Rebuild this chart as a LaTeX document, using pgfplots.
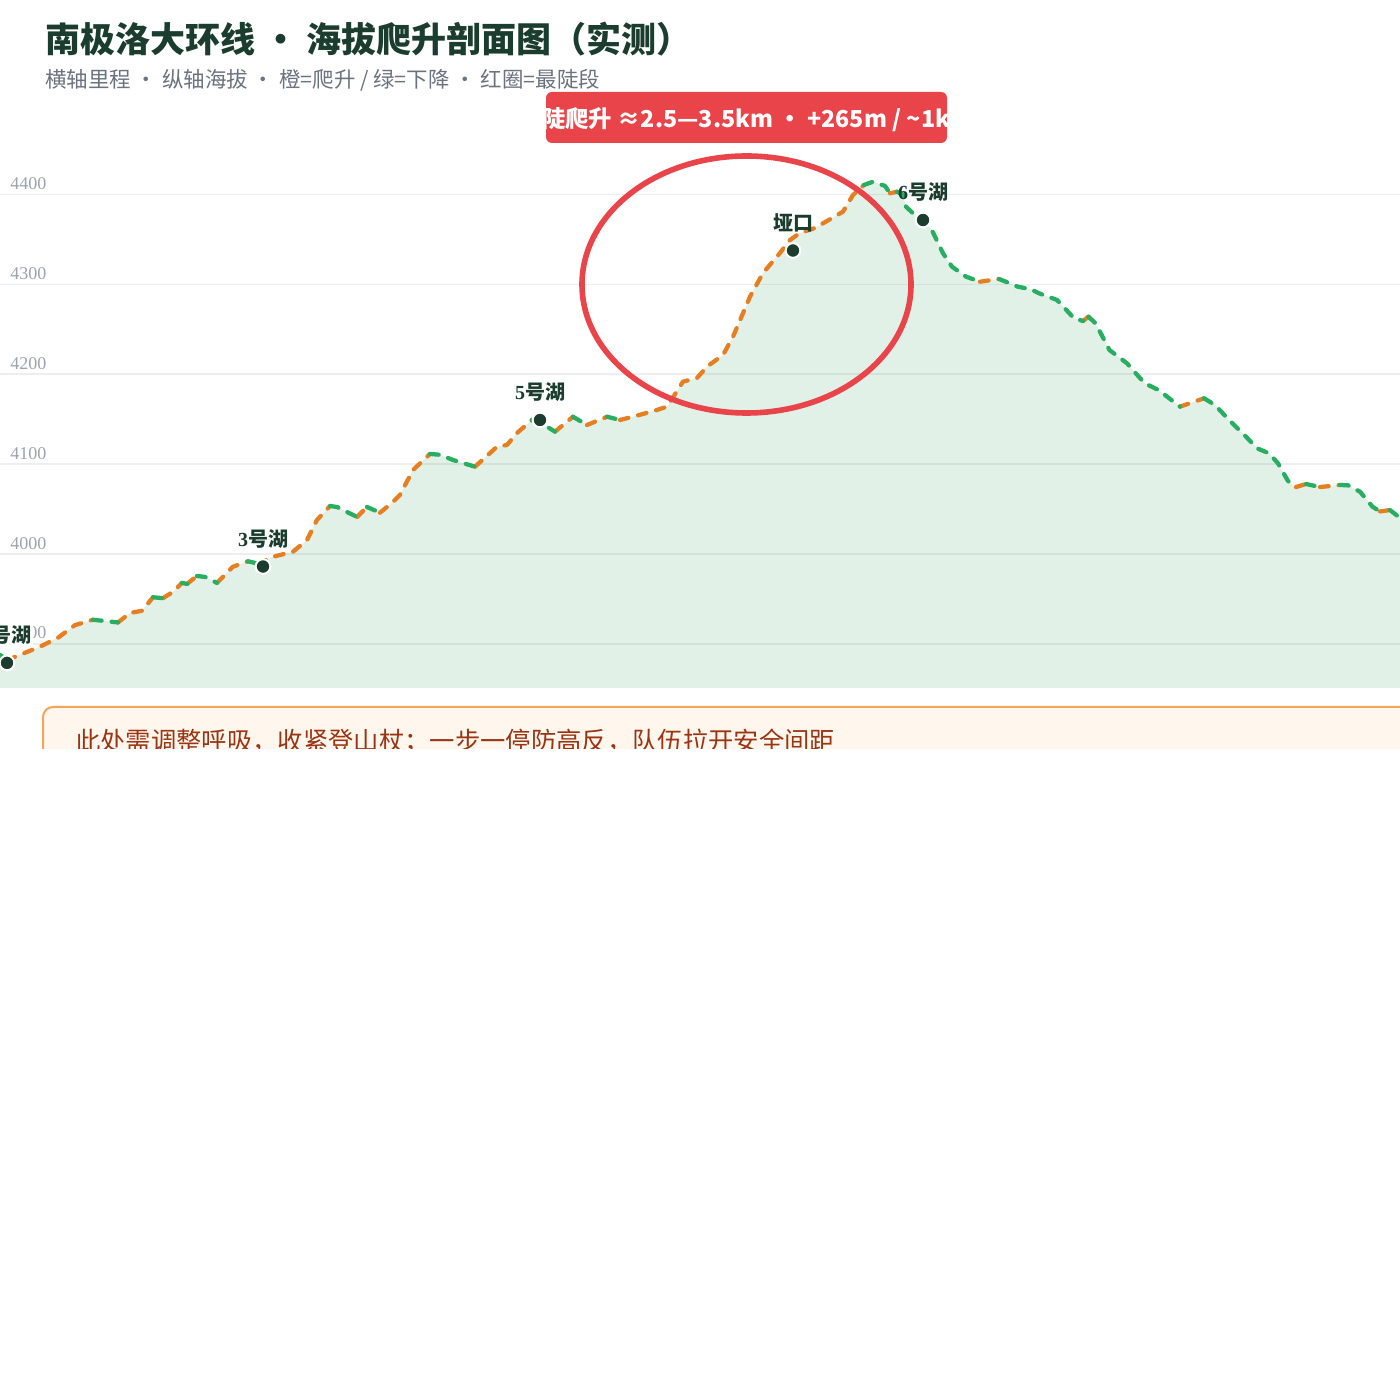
\documentclass[border=0pt]{standalone}
\usepackage{fontspec}
\usepackage{pgfplots}
\pgfplotsset{compat=1.18}
\setmainfont{Noto Sans CJK SC}
\newfontfamily\cjk{Noto Sans CJK SC}
\newfontfamily\serif{Liberation Serif}
\definecolor{titlec}{HTML}{1B3D2F}
\definecolor{subc}{HTML}{6B7280}
\definecolor{tickc}{HTML}{9CA3AF}
\definecolor{gridc}{HTML}{EEEEEE}
\definecolor{orangec}{HTML}{E67E22}
\definecolor{greenc}{HTML}{27AE60}
\definecolor{fillc}{HTML}{2E9E5B}
\definecolor{redc}{HTML}{E94449}
\definecolor{markc}{HTML}{1B3D2F}
\definecolor{calloutbg}{HTML}{FFF7ED}
\definecolor{calloutbd}{HTML}{F6A35C}
\definecolor{callouttx}{HTML}{9A3412}
\pgfplotstableread{
x y
0 3888
7 3882
20 3888
40 3897
58 3907
75 3921
93 3927
118 3924
130 3934.5
142 3937
153 3952
163 3951
173 3958
182 3968
187 3966.8
197 3975.7
205 3974.6
217 3968
233 3986
248 3992
258 3989.5
273 3997
293 4002.7
307 4015.7
317 4038
330 4053.5
337 4052.4
357 4041.3
367 4052.4
380 4046.1
392 4057
400 4066
413 4093.6
430 4111.4
440 4110.5
453 4104.7
475 4097.2
497 4119.5
507 4121.4
517 4134.7
532 4149.2
547 4141.7
555 4136.2
573 4152.8
587 4143.6
607 4152.8
620 4149.2
633 4152.8
657 4160.3
667 4164
683 4191.8
697 4195.9
707 4208.5
723 4221.5
733 4241.8
750 4286.3
763 4312.7
780 4334.9
790 4349.4
800 4357.2
815 4362.7
843 4380.9
853 4399.4
864 4410.6
873 4414.2
885 4409.5
890 4401.3
897 4403.1
903 4399.4
906 4386.4
913 4379.1
923 4371.6
931 4362.4
943 4334.6
952 4319.7
966 4308.6
980 4303
999 4306
1018 4297.4
1031 4294.6
1039 4290.1
1057 4282.7
1074 4262.3
1083 4259.3
1088.5 4264.1
1095.5 4256.7
1109.5 4227
1127 4212.2
1144.6 4190
1158.6 4182.5
1180 4164
1204 4173.3
1215 4165.9
1229 4149.2
1246 4130.6
1257 4117.7
1269 4112.1
1278 4101
1288 4081.3
1296 4074.6
1306 4078
1320 4074.6
1340 4076.9
1348 4076.5
1360 4069.4
1372.5 4052.7
1380 4047.5
1390 4049
1400 4040.2
1410 4032
}\profile
\begin{document}
\begin{tikzpicture}
\fill[white] (0pt,0pt) rectangle (1050pt,1050pt);
\useasboundingbox (0pt,0pt) rectangle (1050pt,1050pt);
\begin{axis}[at={(0pt,534pt)}, anchor=south west, scale only axis,
  width=1050pt, height=411pt, xmin=0, xmax=1400, ymin=3851.1, ymax=4460.6,
  axis line style={draw=none}, xtick=\empty,
  ytick={3900,4000,4100,4200,4300,4400},
  yticklabels={3900,4000,4100,4200,4300,4400},
  major tick length=0pt, ymajorgrids,
  grid style={draw=gridc, line width=1.2pt},
  yticklabel style={anchor=south west, inner sep=0pt, xshift=7.5pt, yshift=3.5pt,
    font=\serif\fontsize{13.5}{15}\selectfont, text=tickc},
  unbounded coords=jump]
\addplot[draw=none, fill=fillc, fill opacity=0.14] table {\profile} \closedcycle;
\addplot[orangec, line width=3.2pt, line cap=round, line join=round, dash pattern=on 6.5pt off 7.5pt] coordinates {
(7,3882) (20,3888) (40,3897) (58,3907) (75,3921) (93,3927) (nan,nan)
(118,3924) (130,3934.5) (142,3937) (153,3952) (nan,nan)
(163,3951) (173,3958) (182,3968) (nan,nan)
(187,3966.8) (197,3975.7) (nan,nan)
(217,3968) (233,3986) (248,3992) (nan,nan)
(258,3989.5) (273,3997) (293,4002.7) (307,4015.7) (317,4038) (330,4053.5) (nan,nan)
(357,4041.3) (367,4052.4) (nan,nan)
(380,4046.1) (392,4057) (400,4066) (413,4093.6) (430,4111.4) (nan,nan)
(475,4097.2) (497,4119.5) (507,4121.4) (517,4134.7) (532,4149.2) (nan,nan)
(555,4136.2) (573,4152.8) (nan,nan)
(587,4143.6) (607,4152.8) (nan,nan)
(620,4149.2) (633,4152.8) (657,4160.3) (667,4164) (683,4191.8) (697,4195.9) (707,4208.5) (723,4221.5) (733,4241.8) (750,4286.3) (763,4312.7) (780,4334.9) (790,4349.4) (800,4357.2) (815,4362.7) (843,4380.9) (853,4399.4) (864,4410.6) (nan,nan)
(890,4401.3) (897,4403.1) (nan,nan)
(980,4303) (999,4306) (nan,nan)
(1083,4259.3) (1088.5,4264.1) (nan,nan)
(1180,4164) (1204,4173.3) (nan,nan)
(1296,4074.6) (1306,4078) (nan,nan)
(1320,4074.6) (1340,4076.9) (nan,nan)
(1380,4047.5) (1390,4049)
};
\addplot[greenc, line width=3.2pt, line cap=round, line join=round, dash pattern=on 6.5pt off 7.5pt] coordinates {
(0,3888) (7,3882) (nan,nan)
(93,3927) (118,3924) (nan,nan)
(153,3952) (163,3951) (nan,nan)
(182,3968) (187,3966.8) (nan,nan)
(197,3975.7) (205,3974.6) (217,3968) (nan,nan)
(248,3992) (258,3989.5) (nan,nan)
(330,4053.5) (337,4052.4) (357,4041.3) (nan,nan)
(367,4052.4) (380,4046.1) (nan,nan)
(430,4111.4) (440,4110.5) (453,4104.7) (475,4097.2) (nan,nan)
(532,4149.2) (547,4141.7) (555,4136.2) (nan,nan)
(573,4152.8) (587,4143.6) (nan,nan)
(607,4152.8) (620,4149.2) (nan,nan)
(864,4410.6) (873,4414.2) (885,4409.5) (890,4401.3) (nan,nan)
(897,4403.1) (903,4399.4) (906,4386.4) (913,4379.1) (923,4371.6) (931,4362.4) (943,4334.6) (952,4319.7) (966,4308.6) (980,4303) (nan,nan)
(999,4306) (1018,4297.4) (1031,4294.6) (1039,4290.1) (1057,4282.7) (1074,4262.3) (1083,4259.3) (nan,nan)
(1088.5,4264.1) (1095.5,4256.7) (1109.5,4227) (1127,4212.2) (1144.6,4190) (1158.6,4182.5) (1180,4164) (nan,nan)
(1204,4173.3) (1215,4165.9) (1229,4149.2) (1246,4130.6) (1257,4117.7) (1269,4112.1) (1278,4101) (1288,4081.3) (1296,4074.6) (nan,nan)
(1306,4078) (1320,4074.6) (nan,nan)
(1340,4076.9) (1348,4076.5) (1360,4069.4) (1372.5,4052.7) (1380,4047.5) (nan,nan)
(1390,4049) (1400,4040.2) (1410,4032)
};
\addplot[only marks, mark=*, mark size=5.5pt, mark options={fill=markc, draw=white, line width=1.5pt}] coordinates {
(7,3879) (263,3986.2) (540,4149.2) (793,4337.7) (923,4371.6)
};
\coordinate (m1) at (axis cs:7,3879);
\coordinate (m3) at (axis cs:263,3986.2);
\coordinate (m5) at (axis cs:540,4149.2);
\coordinate (my) at (axis cs:793,4337.7);
\coordinate (m6) at (axis cs:923,4371.6);
\end{axis}
\tikzset{mlab/.style={anchor=base, inner sep=0.5pt, yshift=15.3pt, text=markc, font=\fontsize{15}{17}\selectfont\bfseries}}
\node[mlab, fill=white] at (m1) {{\serif 1}号湖};
\node[mlab] at (m3) {{\serif 3}号湖};
\node[mlab] at (m5) {{\serif 5}号湖};
\node[mlab] at (my) {垭口};
\node[mlab] at (m6) {{\serif 6}号湖};
\begin{scope}[x=0.75pt,y=-0.75pt,yshift=1050pt]
\draw[redc, line width=4.2pt] (746.5,284.5) ellipse [x radius=164.5, y radius=128.5];
\fill[redc, rounded corners=4.5pt] (546,92) rectangle (947,143);
\begin{scope}
\clip (546,92) rectangle (947,143);
\node[anchor=base, inner sep=0pt, text=white, font=\fontsize{17.5}{19}\selectfont\bfseries] at (746,128) {最陡爬升 ≈2.5—3.5km · +265m / \char"007E 1km};
\end{scope}
\node[anchor=base west, inner sep=0pt, text=titlec, font=\fontsize{26.25}{30}\selectfont\bfseries] at (45,53) {南极洛大环线 · 海拔爬升剖面图（实测）};
\node[anchor=base west, inner sep=0pt, text=subc, font=\fontsize{16.1}{18}\selectfont] at (45,87.5) {横轴里程 · 纵轴海拔 · 橙=爬升 / 绿=下降 · 红圈=最陡段};
\begin{scope}
\clip (0,690) rectangle (1400,748.3);
\draw[fill=calloutbg, draw=calloutbd, line width=1.5pt, rounded corners=7.5pt] (43,707) rectangle (1440,820);
\node[anchor=base west, inner sep=0pt, text=callouttx, font=\fontsize{19}{21}\selectfont] at (75,751) {此处需调整呼吸，收紧登山杖；一步一停防高反，队伍拉开安全间距};
\end{scope}
\end{scope}
\end{tikzpicture}
\end{document}
